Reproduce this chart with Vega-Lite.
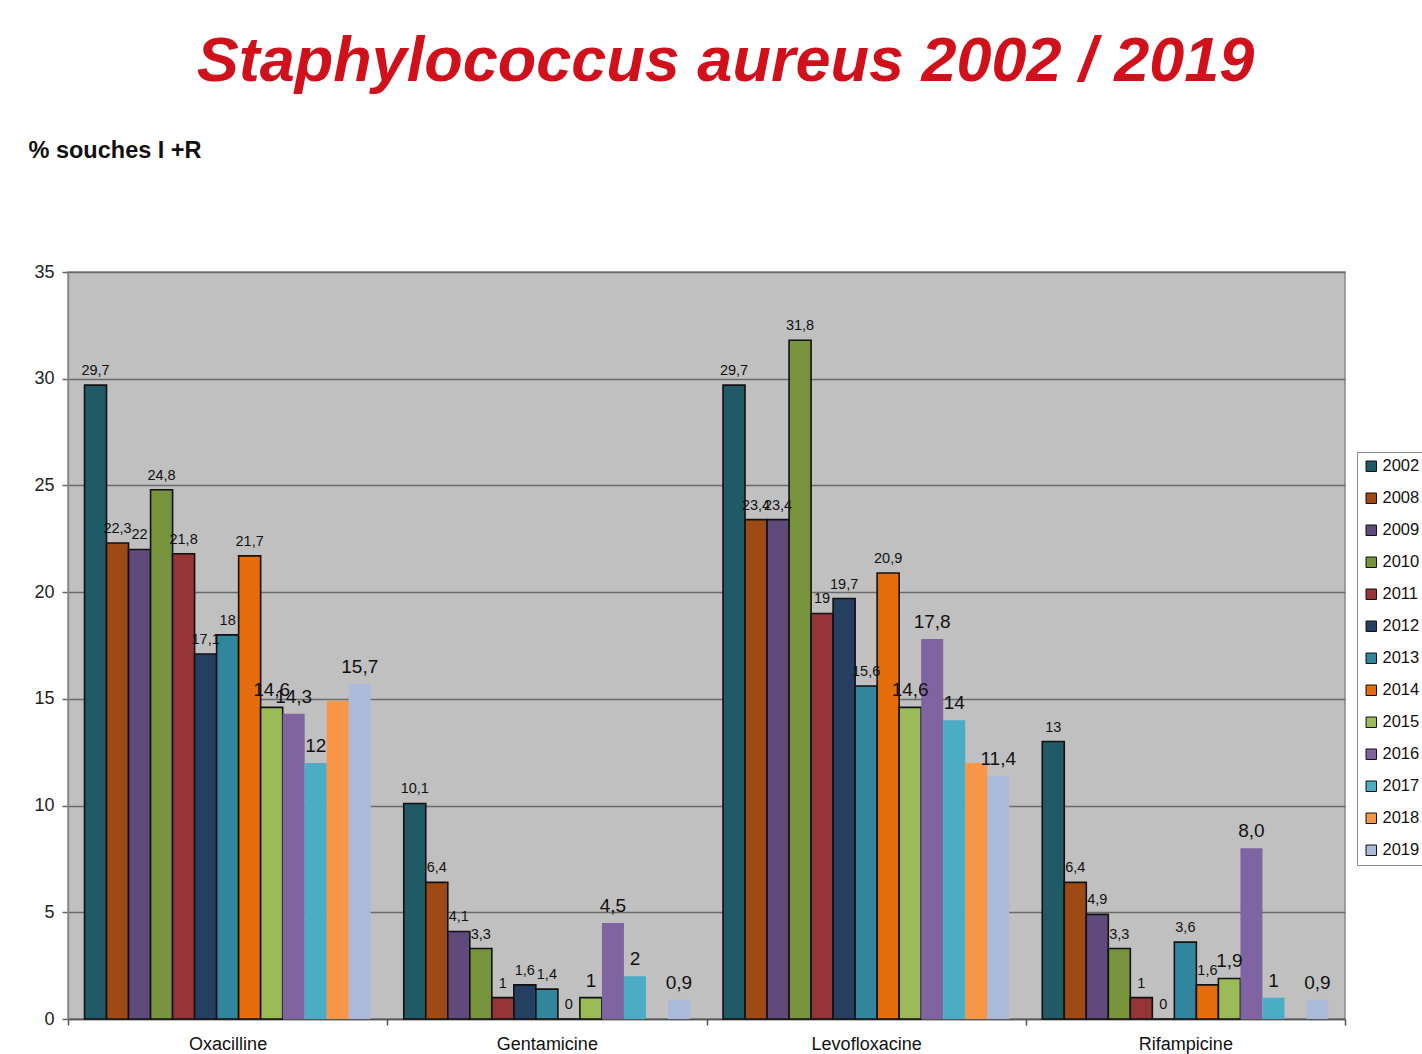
{
  "$schema": "https://vega.github.io/schema/vega-lite/v6.json",
  "width": 1277,
  "height": 747,
  "autosize": {"type": "none"},
  "padding": {"left": 68, "top": 272, "right": 77, "bottom": 35},
  "background": "white",
  "title": {
    "text": "Staphylococcus aureus 2002 / 2019",
    "font": "Liberation Sans",
    "fontSize": 63,
    "fontWeight": "bold",
    "fontStyle": "italic",
    "color": "#d0101a",
    "anchor": "middle",
    "dx": 19,
    "offset": 44
  },
  "config": {
    "view": {"fill": "#c0c0c0", "stroke": "#8a8a8a", "strokeWidth": 1.5},
    "font": "Liberation Sans"
  },
  "data": {
    "values": [
      {"drug": "Oxacilline", "year": "2002", "value": 29.7, "lab": "29,7"},
      {"drug": "Oxacilline", "year": "2008", "value": 22.3, "lab": "22,3"},
      {"drug": "Oxacilline", "year": "2009", "value": 22, "lab": "22"},
      {"drug": "Oxacilline", "year": "2010", "value": 24.8, "lab": "24,8"},
      {"drug": "Oxacilline", "year": "2011", "value": 21.8, "lab": "21,8"},
      {"drug": "Oxacilline", "year": "2012", "value": 17.1, "lab": "17,1"},
      {"drug": "Oxacilline", "year": "2013", "value": 18, "lab": "18"},
      {"drug": "Oxacilline", "year": "2014", "value": 21.7, "lab": "21,7"},
      {"drug": "Oxacilline", "year": "2015", "value": 14.6, "lab": "14,6"},
      {"drug": "Oxacilline", "year": "2016", "value": 14.3, "lab": "14,3"},
      {"drug": "Oxacilline", "year": "2017", "value": 12, "lab": "12"},
      {"drug": "Oxacilline", "year": "2018", "value": 14.9, "lab": null},
      {"drug": "Oxacilline", "year": "2019", "value": 15.7, "lab": "15,7"},
      {"drug": "Gentamicine", "year": "2002", "value": 10.1, "lab": "10,1"},
      {"drug": "Gentamicine", "year": "2008", "value": 6.4, "lab": "6,4"},
      {"drug": "Gentamicine", "year": "2009", "value": 4.1, "lab": "4,1"},
      {"drug": "Gentamicine", "year": "2010", "value": 3.3, "lab": "3,3"},
      {"drug": "Gentamicine", "year": "2011", "value": 1, "lab": "1"},
      {"drug": "Gentamicine", "year": "2012", "value": 1.6, "lab": "1,6"},
      {"drug": "Gentamicine", "year": "2013", "value": 1.4, "lab": "1,4"},
      {"drug": "Gentamicine", "year": "2014", "value": 0, "lab": "0"},
      {"drug": "Gentamicine", "year": "2015", "value": 1, "lab": "1"},
      {"drug": "Gentamicine", "year": "2016", "value": 4.5, "lab": "4,5"},
      {"drug": "Gentamicine", "year": "2017", "value": 2, "lab": "2"},
      {"drug": "Gentamicine", "year": "2018", "value": null, "lab": null},
      {"drug": "Gentamicine", "year": "2019", "value": 0.9, "lab": "0,9"},
      {"drug": "Levofloxacine", "year": "2002", "value": 29.7, "lab": "29,7"},
      {"drug": "Levofloxacine", "year": "2008", "value": 23.4, "lab": "23,4"},
      {"drug": "Levofloxacine", "year": "2009", "value": 23.4, "lab": "23,4"},
      {"drug": "Levofloxacine", "year": "2010", "value": 31.8, "lab": "31,8"},
      {"drug": "Levofloxacine", "year": "2011", "value": 19, "lab": "19"},
      {"drug": "Levofloxacine", "year": "2012", "value": 19.7, "lab": "19,7"},
      {"drug": "Levofloxacine", "year": "2013", "value": 15.6, "lab": "15,6"},
      {"drug": "Levofloxacine", "year": "2014", "value": 20.9, "lab": "20,9"},
      {"drug": "Levofloxacine", "year": "2015", "value": 14.6, "lab": "14,6"},
      {"drug": "Levofloxacine", "year": "2016", "value": 17.8, "lab": "17,8"},
      {"drug": "Levofloxacine", "year": "2017", "value": 14, "lab": "14"},
      {"drug": "Levofloxacine", "year": "2018", "value": 12, "lab": null},
      {"drug": "Levofloxacine", "year": "2019", "value": 11.4, "lab": "11,4"},
      {"drug": "Rifampicine", "year": "2002", "value": 13, "lab": "13"},
      {"drug": "Rifampicine", "year": "2008", "value": 6.4, "lab": "6,4"},
      {"drug": "Rifampicine", "year": "2009", "value": 4.9, "lab": "4,9"},
      {"drug": "Rifampicine", "year": "2010", "value": 3.3, "lab": "3,3"},
      {"drug": "Rifampicine", "year": "2011", "value": 1, "lab": "1"},
      {"drug": "Rifampicine", "year": "2012", "value": 0, "lab": "0"},
      {"drug": "Rifampicine", "year": "2013", "value": 3.6, "lab": "3,6"},
      {"drug": "Rifampicine", "year": "2014", "value": 1.6, "lab": "1,6"},
      {"drug": "Rifampicine", "year": "2015", "value": 1.9, "lab": "1,9"},
      {"drug": "Rifampicine", "year": "2016", "value": 8.0, "lab": "8,0"},
      {"drug": "Rifampicine", "year": "2017", "value": 1, "lab": "1"},
      {"drug": "Rifampicine", "year": "2018", "value": null, "lab": null},
      {"drug": "Rifampicine", "year": "2019", "value": 0.9, "lab": "0,9"}
    ]
  },
  "encoding": {
    "x": {
      "field": "drug",
      "type": "nominal",
      "sort": ["Oxacilline", "Gentamicine", "Levofloxacine", "Rifampicine"],
      "scale": {"paddingInner": 0, "paddingOuter": 0},
      "axis": {
        "title": null,
        "labelAngle": 0,
        "labelFontSize": 18,
        "labelColor": "#111111",
        "labelPadding": 10,
        "domainColor": "#555555",
        "domainWidth": 1.5,
        "tickColor": "#555555",
        "tickWidth": 1.5,
        "tickSize": 6,
        "tickBand": "extent",
        "grid": false
      }
    },
    "xOffset": {
      "field": "year",
      "type": "nominal",
      "scale": {"paddingInner": 0, "paddingOuter": 0.75}
    },
    "y": {
      "field": "value",
      "type": "quantitative",
      "scale": {"domain": [0, 35], "nice": false},
      "axis": {
        "values": [0, 5, 10, 15, 20, 25, 30, 35],
        "title": "% souches I +R",
        "titleAngle": 0,
        "titleAlign": "left",
        "titleBaseline": "middle",
        "titleX": -40,
        "titleY": -122,
        "titleFontSize": 23.5,
        "titleFontWeight": "bold",
        "titleColor": "#111111",
        "labelFontSize": 18,
        "labelColor": "#222222",
        "labelPadding": 8,
        "domainColor": "#888888",
        "domainWidth": 1.5,
        "tickColor": "#666666",
        "tickSize": 6,
        "tickWidth": 1.5,
        "grid": true,
        "gridColor": "#6a6a6a",
        "gridWidth": 1.5
      }
    }
  },
  "layer": [
    {
      "mark": {"type": "bar", "strokeWidth": 1.6},
      "encoding": {
        "color": {
          "field": "year",
          "type": "nominal",
          "scale": {
            "domain": ["2002", "2008", "2009", "2010", "2011", "2012", "2013", "2014", "2015", "2016", "2017", "2018", "2019"],
            "range": ["#1f5a66", "#9e4a15", "#5f4a7b", "#77933c", "#953537", "#243f61", "#31859c", "#e46c0a", "#9bbb59", "#8064a2", "#4bacc6", "#f79646", "#aabbd9"]
          },
          "legend": {
            "title": null,
            "orient": "none",
            "legendX": 1289,
            "legendY": 180,
            "symbolType": "square",
            "symbolSize": 110,
            "symbolStrokeColor": "#111111",
            "symbolStrokeWidth": 1,
            "symbolOpacity": 1,
            "labelFontSize": 16.5,
            "labelColor": "#111111",
            "labelOffset": 3,
            "rowPadding": 15,
            "fillColor": "white",
            "strokeColor": "#888888",
            "padding": 6
          }
        },
        "stroke": {
          "condition": {"test": "toNumber(datum.year) >= 2016", "value": null},
          "value": "#111111"
        }
      }
    },
    {
      "transform": [{"filter": "datum.lab != null"}],
      "mark": {"type": "text", "baseline": "bottom", "dy": -7, "color": "#111111"},
      "encoding": {
        "text": {"field": "lab"},
        "size": {
          "condition": {"test": "toNumber(datum.year) >= 2015", "value": 19},
          "value": 14.5
        }
      }
    }
  ]
}
